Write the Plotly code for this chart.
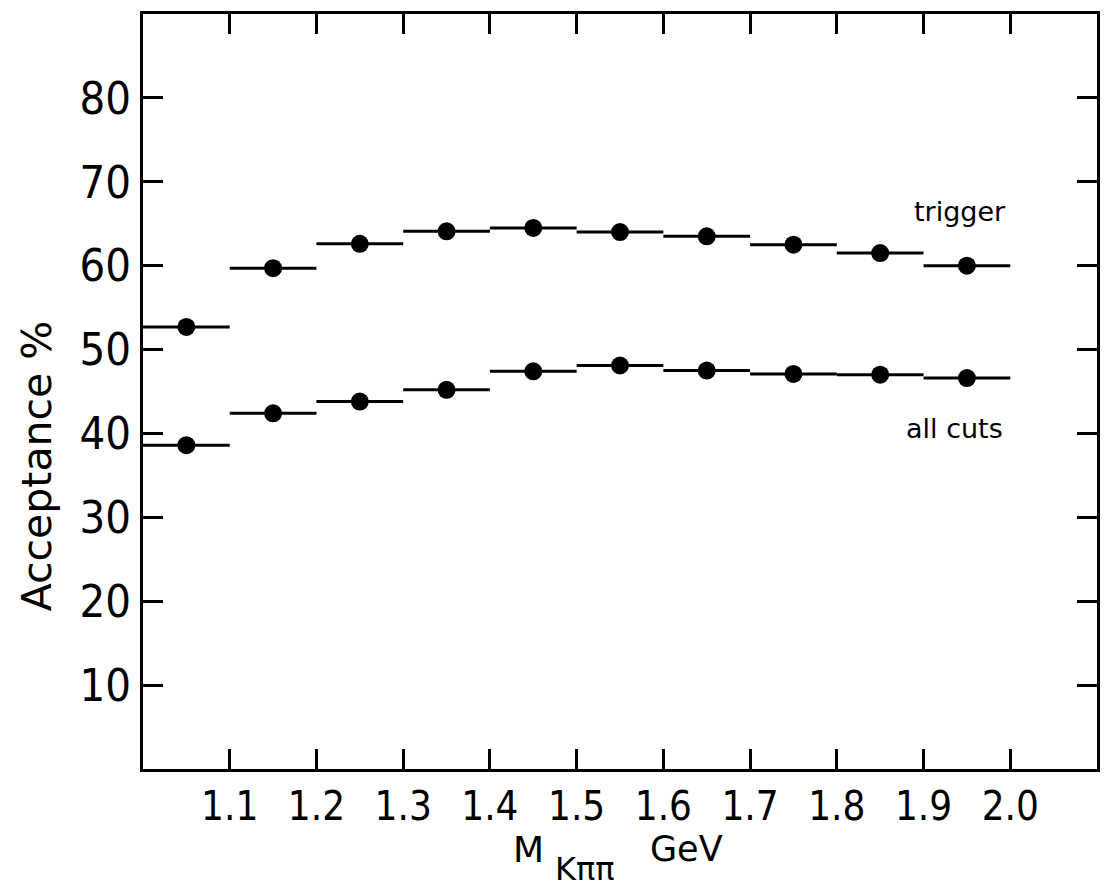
import plotly.graph_objects as go

# Kππ invariant-mass bins (GeV): centres and half-width
mass_centres = [1.05, 1.15, 1.25, 1.35, 1.45, 1.55, 1.65, 1.75, 1.85, 1.95]
bin_half_width = 0.05

# Acceptance in percent
acc_trigger = [52.7, 59.7, 62.6, 64.1, 64.5, 64.0, 63.5, 62.5, 61.5, 60.0]
acc_all_cuts = [38.6, 42.4, 43.8, 45.2, 47.4, 48.1, 47.5, 47.1, 47.0, 46.6]

x_ticks = [1.1, 1.2, 1.3, 1.4, 1.5, 1.6, 1.7, 1.8, 1.9, 2.0]
x_tick_text = ["1.1", "1.2", "1.3", "1.4", "1.5", "1.6", "1.7", "1.8", "1.9", "2.0"]
y_ticks = [10, 20, 30, 40, 50, 60, 70, 80]

NARROW = "DejaVu Sans Condensed, Liberation Sans Narrow, DejaVu Sans, sans-serif"
TEXT = "DejaVu Sans, Liberation Sans, sans-serif"

W, H = 1105, 890
M_L, M_R, M_T, M_B = 143, 5, 14, 121
PLOT_W = W - M_L - M_R
PLOT_H = H - M_T - M_B


def px_to_paper(px, py):
    """Convert a page pixel position to paper coordinates."""
    return (px - M_L) / PLOT_W, 1 - (py - M_T) / PLOT_H


fig = go.Figure()
for series in (acc_trigger, acc_all_cuts):
    fig.add_trace(go.Scatter(
        x=mass_centres, y=series, mode="markers",
        marker=dict(size=18, color="black"),
        error_x=dict(type="constant", value=bin_half_width, width=0,
                     thickness=3, color="black"),
        showlegend=False,
    ))

axis_common = dict(
    showline=True, linecolor="black", linewidth=3, mirror="ticks",
    ticks="inside", tickcolor="black", tickwidth=2.5, ticklen=20,
    showgrid=False, zeroline=False,
)

fig.update_xaxes(range=[1.0, 2.1], tickvals=x_ticks, ticktext=x_tick_text,
                 tickfont=dict(family=NARROW, size=40, color="black"),
                 **axis_common)
fig.update_yaxes(range=[0, 90], tickvals=y_ticks,
                 tickfont=dict(family=NARROW, size=45, color="black"),
                 **axis_common)

fig.add_annotation(x=1.997, y=66.4, xref="x", yref="y", text="trigger",
                   showarrow=False, xanchor="right", yanchor="middle",
                   font=dict(family=TEXT, size=27, color="black"))
fig.add_annotation(x=1.994, y=40.6, xref="x", yref="y", text="all cuts",
                   showarrow=False, xanchor="right", yanchor="middle",
                   font=dict(family=TEXT, size=27, color="black"))

# Axis titles, positioned in page pixels
def add_label(text, px, py, size, angle=0):
    x, y = px_to_paper(px, py)
    fig.add_annotation(x=x, y=y, xref="paper", yref="paper", text=text,
                       showarrow=False, textangle=angle,
                       xanchor="center", yanchor="middle",
                       font=dict(family=TEXT, size=size, color="black"))


add_label("Acceptance %", 37, 466, 41, angle=-90)
add_label("M", 530, 849, 36)
add_label("Kππ", 586, 869, 32)
add_label("GeV", 688, 849, 35)

fig.update_layout(
    width=W, height=H,
    margin=dict(l=M_L, r=M_R, t=M_T, b=M_B),
    paper_bgcolor="white", plot_bgcolor="white",
)

fig.write_html("out.html")
